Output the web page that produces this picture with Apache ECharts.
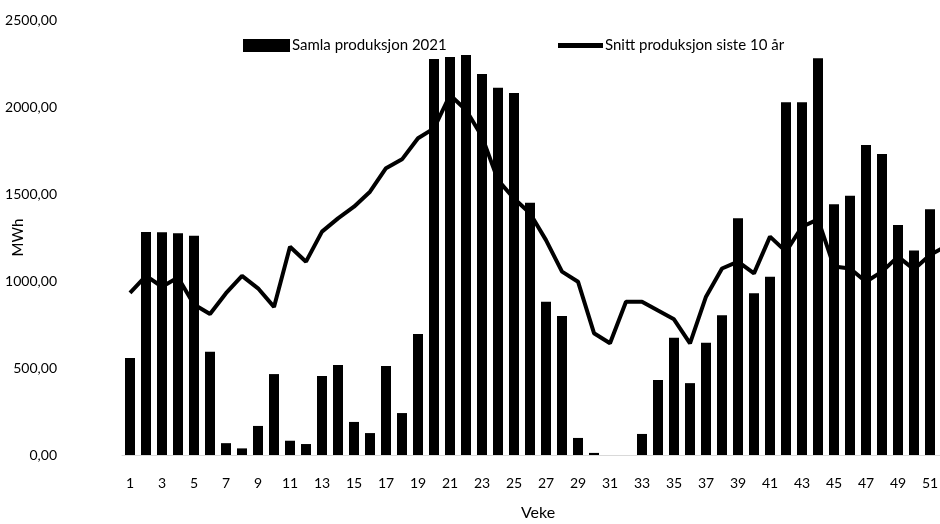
<!DOCTYPE html>
<html>
<head>
<meta charset="utf-8">
<script src="https://cdn.jsdelivr.net/npm/echarts@6/dist/echarts.min.js"></script>
<style>html,body{margin:0;padding:0;background:#fff}#c{width:940px;height:524px}</style>
</head>
<body>
<div id="c"></div>
<script>
const weeks = [];
for (let i = 1; i <= 52; i++) weeks.push(String(i));
const production2021 = [557, 1282, 1280, 1275, 1260, 593, 68, 38, 167, 465, 82, 63, 454, 517, 190, 126, 511, 241, 695, 2276, 2287, 2299, 2190, 2110, 2081, 1450, 881, 799, 98, 12, 0, 0, 121, 431, 674, 413, 645, 803, 1360, 929, 1025, 2027, 2027, 2280, 1441, 1490, 1782, 1730, 1322, 1175, 1412, null];
const average10y = [932, 1029, 967, 1020, 865, 810, 930, 1029, 958, 851, 1197, 1111, 1284, 1360, 1427, 1513, 1648, 1699, 1820, 1877, 2069, 1983, 1830, 1580, 1474, 1389, 1235, 1054, 996, 700, 642, 881, 881, 830, 780, 642, 910, 1072, 1111, 1044, 1255, 1169, 1312, 1354, 1083, 1072, 996, 1054, 1140, 1067, 1150, 1200];
const yTicks = [0, 500, 1000, 1500, 2000, 2500];
const seriesNames = ['Samla produksjon 2021', 'Snitt produksjon siste 10 år'];

const font = 'Lato';
const chart = echarts.init(document.getElementById('c'), null, {renderer: 'canvas'});
chart.setOption({
  animation: false,
  backgroundColor: '#fff',
  textStyle: {fontFamily: font, color: '#000'},
  legend: [
    {data: [{name: seriesNames[0], icon: 'rect'}], left: 238, top: 33, itemWidth: 47, itemHeight: 13,
     textStyle: {fontFamily: font, fontSize: 15, color: '#000', padding: [0, 0, 0, -3]}},
    {data: [{name: seriesNames[1], icon: 'rect'}], left: 553, top: 33, itemWidth: 45, itemHeight: 5,
     textStyle: {fontFamily: font, fontSize: 15, color: '#000', padding: [0, 0, 0, -3]}}
  ],
  grid: {left: 122, top: 20, width: 52 * 16, bottom: 69, containLabel: false, outerBoundsMode: 'none'},
  xAxis: {
    type: 'category',
    data: weeks,
    name: 'Veke',
    nameLocation: 'middle',
    nameGap: 50,
    nameMoveOverlap: false,
    nameTextStyle: {fontFamily: font, fontSize: 16, color: '#000'},
    axisTick: {show: false},
    axisLine: {show: true, lineStyle: {color: '#d9d9d9', width: 1}},
    axisLabel: {interval: 1, margin: 21, fontFamily: font, fontSize: 14, color: '#000'}
  },
  yAxis: {
    type: 'value',
    min: yTicks[0],
    max: yTicks[yTicks.length - 1],
    interval: 500,
    name: 'MWh',
    nameLocation: 'middle',
    nameGap: 96,
    nameMoveOverlap: false,
    nameTextStyle: {fontFamily: font, fontSize: 15, color: '#000'},
    splitLine: {show: false},
    axisLine: {show: false},
    axisTick: {show: false},
    axisLabel: {margin: 65, fontFamily: font, fontSize: 14, color: '#000',
      formatter: v => v.toFixed(2).replace('.', ',')}
  },
  series: [
    {name: seriesNames[0], type: 'bar', data: production2021, barWidth: 10,
     itemStyle: {color: '#000'}},
    {name: seriesNames[1], type: 'line', data: average10y, symbol: 'none',
     lineStyle: {color: '#000', width: 4}, itemStyle: {color: '#000'}}
  ]
});
</script>
</body>
</html>
